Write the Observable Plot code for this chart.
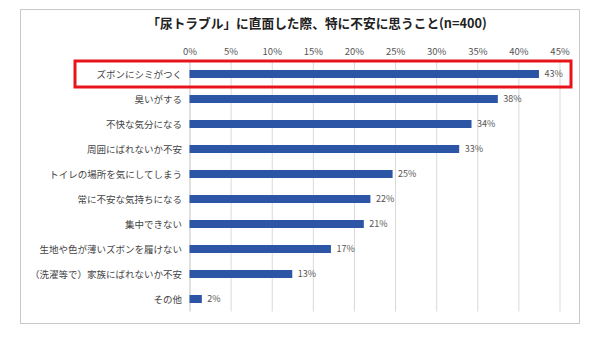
<!DOCTYPE html>
<html><head><meta charset="utf-8">
<script src="https://cdn.jsdelivr.net/npm/d3@7"></script>
<script src="https://cdn.jsdelivr.net/npm/@observablehq/plot@0.6"></script>
<style>
body{margin:0;background:#fff;font-family:"Noto Sans CJK JP",sans-serif;}
#wrap{position:relative;width:608px;height:348px;}
#frame{position:absolute;left:20px;top:9px;width:560px;height:315px;border:1px solid #c8c8c8;box-sizing:border-box;pointer-events:none;}
</style></head>
<body><div id="wrap"><div id="frame"></div></div>
<script>
const title = "「尿トラブル」に直面した際、特に不安に思うこと(n=400)";
const categories = ["ズボンにシミがつく","臭いがする","不快な気分になる","周囲にばれないか不安","トイレの場所を気にしてしまう","常に不安な気持ちになる","集中できない","生地や色が薄いズボンを履けない","（洗濯等で）家族にばれないか不安","その他"];
const values = [42.5, 37.5, 34.3, 32.8, 24.7, 22.0, 21.2, 17.2, 12.5, 1.5];
const valueLabels = ["43%","38%","34%","33%","25%","22%","21%","17%","13%","2%"];
const xTicks = [0,5,10,15,20,25,30,35,40,45];
const highlighted = "ズボンにシミがつく";

const data = categories.map((c,i)=>({cat:c, v:values[i], label:valueLabels[i]}));

const highlightBox = (index, scales, values, dims) => {
  const y0 = scales.y(highlighted);
  const bw = scales.y.bandwidth ? scales.y.bandwidth() : 0;
  const step = scales.y.step ? scales.y.step() : 25;
  const cy = y0 + bw/2;
  const r = document.createElementNS("http://www.w3.org/2000/svg","rect");
  r.setAttribute("x", 75);
  r.setAttribute("y", cy - step/2 - 0.5);
  r.setAttribute("width", scales.x(45) + 11.5 - 75);
  r.setAttribute("height", step + 1);
  r.setAttribute("fill","none");
  r.setAttribute("stroke","#e8141b");
  r.setAttribute("stroke-width",3);
  return r;
};

const chart = Plot.plot({
  width:608, height:348,
  marginLeft:189.5, marginRight:48.5, marginTop:61.5, marginBottom:36.5,
  style:{fontFamily:"'Noto Sans CJK JP', sans-serif", background:"transparent", color:"#333"},
  x:{domain:[0,45], axis:null},
  y:{domain:categories, axis:null, paddingInner:0.68, paddingOuter:0.34},
  marks:[
    Plot.ruleX(xTicks.slice(1), {stroke:"#d9d9d9", strokeWidth:1}),
    Plot.ruleX([0], {stroke:"#c0c0c0", strokeWidth:1}),
    Plot.axisX({anchor:"top", ticks:xTicks, tickSize:0, tickPadding:7, tickFormat:d=>d+"%", fontSize:9.5, fill:"#555", label:null}),
    Plot.axisY({anchor:"left", tickSize:0, tickPadding:8, fontSize:9.5, fill:"#444", label:null}),
    Plot.barX(data, {y:"cat", x:"v", fill:"#2d55a5"}),
    Plot.text(data, {y:"cat", x:"v", text:"label", textAnchor:"start", dx:5, fontSize:9, fill:"#555"}),
    Plot.text([title], {frameAnchor:"top", text:d=>d, dy:-43, dx:-58, fontSize:12.7, fontWeight:"bold", fill:"#222"}),
    highlightBox
  ]
});
chart.style.position="absolute"; chart.style.left="0"; chart.style.top="0";
document.getElementById("wrap").appendChild(chart);
</script></body></html>
